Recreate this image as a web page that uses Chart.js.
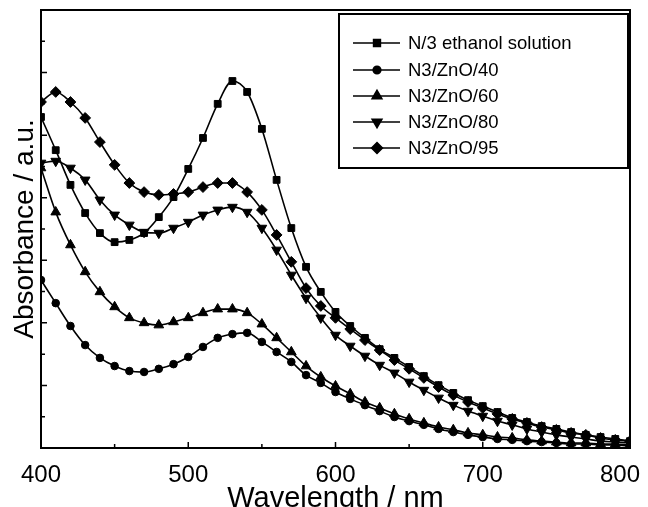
<!DOCTYPE html>
<html lang="en">
<head>
    <meta charset="UTF-8">
    <title>Absorbance spectra</title>
    <script src="https://cdn.jsdelivr.net/npm/chart.js"></script>
    <style>
        html, body {
            margin: 0;
            padding: 0;
            background: #fff;
            overflow: hidden;
        }
        #wrap {
            width: 648px;
            height: 516px;
        }
    </style>
</head>
<body>
    <div id="wrap"><canvas id="spectra"></canvas></div>

    <script>
        // wavelength (nm)
        const wavelengths = [400, 410, 420, 430, 440, 450, 460, 470, 480, 490,
            500, 510, 520, 530, 540, 550, 560, 570, 580, 590,
            600, 610, 620, 630, 640, 650, 660, 670, 680, 690,
            700, 710, 720, 730, 740, 750, 760, 770, 780, 790, 800];

        // absorbance (a.u.)
        const ethanolSolution = [1.058, 0.952, 0.841, 0.751, 0.687, 0.658, 0.665, 0.687, 0.738, 0.802,
            0.892, 0.991, 1.100, 1.173, 1.138, 1.020, 0.857, 0.703, 0.579, 0.499,
            0.435, 0.390, 0.352, 0.316, 0.288, 0.259, 0.230, 0.201, 0.176, 0.153,
            0.134, 0.115, 0.096, 0.083, 0.070, 0.061, 0.051, 0.042, 0.035, 0.029, 0.022];
        const zno40 = [0.537, 0.463, 0.390, 0.329, 0.288, 0.262, 0.246, 0.243, 0.253, 0.268,
            0.291, 0.323, 0.352, 0.364, 0.368, 0.339, 0.307, 0.275, 0.233, 0.208,
            0.179, 0.157, 0.137, 0.118, 0.099, 0.086, 0.074, 0.061, 0.051, 0.042,
            0.035, 0.029, 0.026, 0.022, 0.019, 0.016, 0.013, 0.013, 0.010, 0.010, 0.006];
        const zno60 = [0.895, 0.754, 0.649, 0.563, 0.499, 0.451, 0.416, 0.400, 0.393, 0.403,
            0.416, 0.432, 0.444, 0.444, 0.432, 0.396, 0.352, 0.307, 0.262, 0.227,
            0.198, 0.173, 0.147, 0.128, 0.109, 0.093, 0.080, 0.067, 0.058, 0.048,
            0.042, 0.035, 0.032, 0.026, 0.022, 0.019, 0.016, 0.016, 0.013, 0.013, 0.010];
        const zno80 = [0.911, 0.917, 0.895, 0.857, 0.793, 0.745, 0.713, 0.690, 0.687, 0.703,
            0.722, 0.745, 0.761, 0.770, 0.754, 0.703, 0.633, 0.553, 0.479, 0.416,
            0.361, 0.326, 0.294, 0.265, 0.240, 0.211, 0.185, 0.160, 0.137, 0.118,
            0.102, 0.086, 0.074, 0.061, 0.051, 0.042, 0.035, 0.029, 0.022, 0.019, 0.016];
        const zno95 = [1.106, 1.138, 1.106, 1.055, 0.978, 0.905, 0.847, 0.818, 0.809, 0.812,
            0.818, 0.834, 0.847, 0.847, 0.818, 0.761, 0.681, 0.595, 0.511, 0.454,
            0.416, 0.380, 0.345, 0.313, 0.281, 0.253, 0.224, 0.195, 0.169, 0.147,
            0.128, 0.109, 0.093, 0.080, 0.067, 0.058, 0.048, 0.042, 0.032, 0.026, 0.022];

        const seriesNames = ["N/3 ethanol solution", "N3/ZnO/40", "N3/ZnO/60", "N3/ZnO/80", "N3/ZnO/95"];
        const xTicks = [400, 500, 600, 700, 800];

        const plainFont = "'Liberation Sans', Arial, sans-serif";

        const markers = [
            { pointStyle: "rect", radius: 4.8, rotation: 0 },
            { pointStyle: "circle", radius: 3.8, rotation: 0 },
            { pointStyle: "triangle", radius: 5.6, rotation: 0 },
            { pointStyle: "triangle", radius: 5.6, rotation: 180 },
            { pointStyle: "rectRot", radius: 5.4, rotation: 0 }
        ];

        const allSeries = [ethanolSolution, zno40, zno60, zno80, zno95];

        const datasets = allSeries.map((vals, i) => ({
            label: seriesNames[i],
            data: wavelengths.map((w, j) => ({ x: w, y: vals[j] })),
            borderColor: "#000",
            backgroundColor: "#000",
            borderWidth: 1.6,
            pointStyle: markers[i].pointStyle,
            pointRadius: markers[i].radius,
            pointRotation: markers[i].rotation,
            pointBackgroundColor: "#000",
            pointBorderColor: "#000",
            pointBorderWidth: 1,
            cubicInterpolationMode: "monotone",
            fill: false
        }));

        // box around the plot, inward tick marks and the x tick labels
        const framePlugin = {
            id: "frame",
            afterDatasetsDraw(chart) {
                const { ctx, chartArea: a, scales } = chart;
                ctx.save();
                ctx.strokeStyle = "#000";
                ctx.lineWidth = 2;
                ctx.strokeRect(a.left, a.top, a.right - a.left, a.bottom - a.top);
                ctx.lineWidth = 1.5;
                ctx.beginPath();
                for (let v = 400; v <= 800; v += 50) {
                    const px = scales.x.getPixelForValue(v);
                    const len = v % 100 === 0 ? 6 : 4;
                    ctx.moveTo(px, a.bottom);
                    ctx.lineTo(px, a.bottom - len);
                }
                for (let k = 1; k < 14; k++) {
                    const py = scales.y.getPixelForValue(k / 10);
                    const len = k % 2 === 0 ? 6 : 4;
                    ctx.moveTo(a.left, py);
                    ctx.lineTo(a.left + len, py);
                }
                ctx.stroke();

                // tick labels; the last one is pulled in so it stays on the page
                ctx.fillStyle = "#000";
                ctx.font = "24px " + plainFont;
                ctx.textAlign = "center";
                ctx.textBaseline = "alphabetic";
                xTicks.forEach(v => {
                    const label = String(v);
                    const half = ctx.measureText(label).width / 2;
                    let px = scales.x.getPixelForValue(v);
                    px = Math.min(px, chart.width - 8 - half);
                    ctx.fillText(label, px, a.bottom + 34);
                });
                ctx.restore();
            }
        };

        // boxed legend in the upper right corner
        const legendPlugin = {
            id: "boxLegend",
            afterDraw(chart) {
                const { ctx } = chart;
                const box = { left: 339, top: 14, right: 628, bottom: 168 };
                const rows = [43, 70, 96, 122, 148];
                ctx.save();
                ctx.fillStyle = "#fff";
                ctx.fillRect(box.left, box.top, box.right - box.left, box.bottom - box.top);
                ctx.strokeStyle = "#000";
                ctx.lineWidth = 2;
                ctx.strokeRect(box.left, box.top, box.right - box.left, box.bottom - box.top);
                chart.data.datasets.forEach((ds, i) => {
                    const y = rows[i];
                    ctx.strokeStyle = "#000";
                    ctx.lineWidth = 1.6;
                    ctx.beginPath();
                    ctx.moveTo(353, y);
                    ctx.lineTo(400, y);
                    ctx.stroke();
                    ctx.fillStyle = "#000";
                    Chart.helpers.drawPoint(ctx, {
                        pointStyle: ds.pointStyle,
                        radius: ds.pointRadius,
                        rotation: ds.pointRotation,
                        borderWidth: 1
                    }, 377, y);
                    ctx.fillStyle = "#000";
                    ctx.font = "18.5px " + plainFont;
                    ctx.textBaseline = "middle";
                    ctx.textAlign = "left";
                    ctx.fillText(ds.label, 408, y + 1);
                });
                ctx.restore();
            }
        };

        new Chart(document.getElementById("spectra"), {
            type: "line",
            data: { datasets: datasets },
            options: {
                responsive: true,
                maintainAspectRatio: false,
                animation: false,
                devicePixelRatio: 1,
                layout: { padding: { top: 10, right: 18, left: 0, bottom: 0 } },
                plugins: {
                    legend: { display: false },
                    tooltip: { enabled: false }
                },
                scales: {
                    x: {
                        type: "linear",
                        min: 400,
                        max: 800,
                        afterBuildTicks: (scale) => {
                            scale.ticks = xTicks.map(v => ({ value: v }));
                        },
                        afterFit: (scale) => {
                            scale.height = 68;
                            scale.paddingLeft = 0;
                            scale.paddingRight = 0;
                        },
                        grid: { display: false, drawTicks: false },
                        border: { display: false },
                        ticks: { display: false },
                        title: {
                            display: true,
                            text: "Wavelength / nm",
                            color: "#000",
                            padding: { top: 0, bottom: 0 },
                            font: { family: plainFont, size: 29 }
                        }
                    },
                    y: {
                        min: 0,
                        max: 1.4,
                        afterFit: (scale) => { scale.width = 41; },
                        grid: { display: false, drawTicks: false },
                        border: { display: false },
                        ticks: { display: false },
                        title: {
                            display: true,
                            text: "Absorbance / a.u.",
                            color: "#000",
                            padding: { top: 8, bottom: 0 },
                            font: { family: plainFont, size: 28 }
                        }
                    }
                }
            },
            plugins: [framePlugin, legendPlugin]
        });
    </script>
</body>
</html>
